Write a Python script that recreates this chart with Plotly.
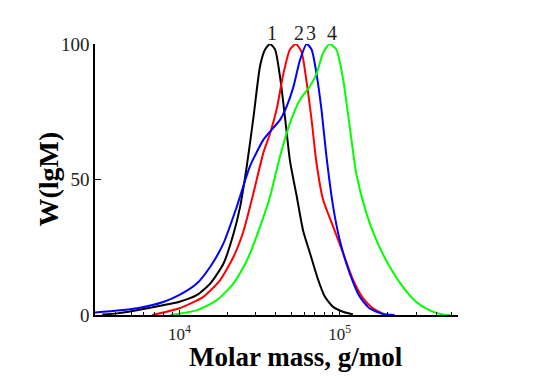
import numpy as np
import plotly.graph_objects as go

# ---- data (molar mass, g/mol ; W(lgM)) ----
m1 = [3300, 4100, 6300, 10000, 12880, 15600, 18840, 21740, 23920, 26320, 28960, 31860, 34220,
      36750, 39480, 42400, 45540, 48910, 53830, 59170, 65110, 73350, 80650, 90960, 105000, 121000]
w1 = [0.2, 0.6, 2.5, 4.9, 7.4, 11.7, 19, 30, 40, 55, 73, 92, 98,
      100, 98, 88, 73, 57, 44, 31, 23, 13, 6.8, 3, 1.2, 0.2]

m2 = [6760, 10000, 14160, 17990, 21740, 25100, 28960, 33430, 36750, 40440, 44490, 48910, 53330,
      57810, 62120, 66740, 71660, 78770, 90960, 105000, 121000, 139700, 161100, 190400]
w2 = [0, 2.5, 6.8, 13, 21.5, 31, 45, 60, 67, 76, 89, 98, 100,
      97, 86, 72, 56, 42.5, 32.6, 22.8, 13, 6.2, 2.5, 0.2]

m3 = [2970, 5460, 8000, 10000, 12880, 15600, 18840, 22800, 27590, 33430, 36750, 42400, 46670,
      51300, 56450, 62120, 66740, 71660, 76880, 82640, 90960, 100000, 115400, 133000, 153500,
      185700, 220000]
w3 = [0.9, 2.5, 4.9, 7.4, 11.7, 17.9, 26.5, 40, 55, 64.7, 67.7, 72, 77,
      84, 94, 100, 98, 89, 76, 58.5, 40, 27.7, 15.4, 6.8, 2.5, 0.4, 0]

m4 = [8790, 12880, 17140, 21740, 26320, 31860, 36750, 42400, 48910, 56450, 65110, 71660, 78770,
      86640, 95290, 105000, 115400, 127000, 146600, 169000, 204600, 247100, 299100, 362100,
      438500, 487000]
w4 = [0, 1.8, 5.5, 11.7, 20, 32.6, 43.7, 58.5, 70.8, 79.4, 84.4, 89, 96.7,
      100, 98, 87, 69.6, 52, 37.6, 27.7, 17.9, 10.5, 4.9, 1.8, 0.2, 0]

series_names = ["1", "2", "3", "4"]
series_colors = ["#000000", "#ff0000", "#0000ff", "#00ff00"]
label_positions = [37960, 55400, 65900, 90000]

x_tickvals = [1e4, 1e5]
x_ticktext = ["10<sup>4</sup>", "10<sup>5</sup>"]
y_tickvals = [0, 50, 100]

x_title = "<b>Molar mass, g/mol</b>"
y_title = "<b>W(lgM)</b>"

fig = go.Figure()
for name, m, w, c in zip(series_names, [m1, m2, m3, m4], [w1, w2, w3, w4], series_colors):
    fig.add_trace(go.Scatter(x=m, y=w, mode="lines", name=name,
                             line=dict(color=c, width=2, shape="spline", smoothing=0.6),
                             showlegend=False))

for name, pos in zip(series_names, label_positions):
    fig.add_annotation(x=np.log10(pos), y=1, xref="x", yref="paper", text=name,
                       showarrow=False, yanchor="bottom", yshift=-2,
                       font=dict(family="Liberation Serif", size=20, color="#222"))

# axis titles as text annotations (precise placement)
fig.add_annotation(x=0, y=0.5, xref="paper", yref="paper", text=y_title,
                   showarrow=False, textangle=-90, xanchor="center", yanchor="middle",
                   xshift=-47, font=dict(family="Liberation Serif", size=28, color="black"))
fig.add_annotation(x=0.5, y=0, xref="paper", yref="paper", text=x_title,
                   showarrow=False, xanchor="center", yanchor="middle",
                   xshift=19, yshift=-42, font=dict(family="Liberation Serif", size=27, color="black"))

minor_vals = [k * 10 ** n for n in (3, 4, 5) for k in range(2, 10)]

# the page body has an 8px margin, so the figure is 8px smaller than the window
fig.update_layout(
    width=526, height=371,
    margin=dict(l=87, r=76, t=36, b=64),
    plot_bgcolor="white", paper_bgcolor="white",
    font=dict(family="Liberation Serif", color="#222"),
)
fig.update_xaxes(
    type="log", range=[3.473, 5.738],
    showgrid=False, zeroline=False, automargin=False,
    showline=True, linecolor="black", linewidth=1.5,
    tickvals=x_tickvals, ticktext=x_ticktext,
    ticks="inside", ticklen=5, tickwidth=1, tickcolor="black",
    ticklabelstandoff=3,
    tickfont=dict(family="Liberation Serif", size=17, color="#222"),
    minor=dict(tickvals=minor_vals, ticks="inside", ticklen=3, tickcolor="black", showgrid=False),
)
fig.update_yaxes(
    range=[0, 100],
    showgrid=False, zeroline=False, automargin=False,
    showline=True, linecolor="black", linewidth=1.5,
    tickvals=y_tickvals,
    ticks="inside", ticklen=6, tickwidth=1, tickcolor="black",
    tickfont=dict(family="Liberation Serif", size=19, color="#222"),
)

fig.write_html("out.html")
